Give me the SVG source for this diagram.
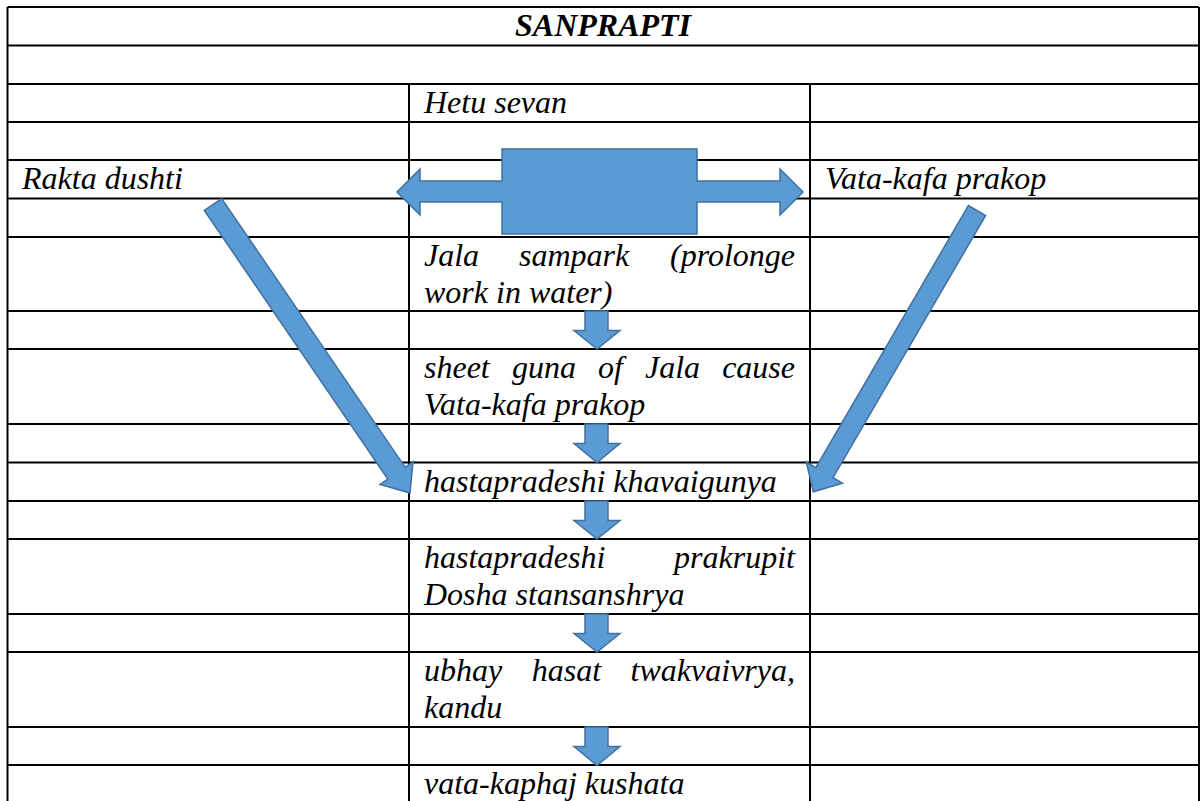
<svg xmlns="http://www.w3.org/2000/svg" width="1201" height="801" viewBox="0 0 1201 801">
<style>
.ln{stroke:#000;stroke-width:2;fill:none}
.t{font-family:"Liberation Serif","Times New Roman",serif;font-style:italic;font-size:32px;fill:#000}
.b{font-weight:bold}
.ar{fill:#5B9BD5;stroke:#41719C;stroke-width:1.5;stroke-linejoin:miter}
</style>
<rect width="1201" height="801" fill="#fff"/>
<g id="table" class="ln">
<path d="M7.5,7 V801 M1199,7 V801 M409,84 V801 M810,84 V801"/>
<path d="M7.5,7 H1199 M7.5,45.5 H1199 M7.5,84 H1199 M7.5,122 H1199 M7.5,160 H1199 M7.5,198.5 H1199 M7.5,237 H1199 M7.5,311 H1199 M7.5,349 H1199 M7.5,424 H1199 M7.5,462.5 H1199 M7.5,501 H1199 M7.5,539 H1199 M7.5,614 H1199 M7.5,652 H1199 M7.5,727 H1199 M7.5,765 H1199"/>
</g>
<g id="title"><text class="t b" x="603" y="36" text-anchor="middle">SANPRAPTI</text></g>
<g id="hetu"><text class="t" x="424" y="113">Hetu sevan</text></g>
<g id="rakta"><text class="t" x="22" y="189">Rakta dushti</text></g>
<g id="vatakafa"><text class="t" x="825" y="189">Vata-kafa prakop</text></g>
<g id="jala">
<text class="t" x="424" y="266">Jala</text>
<text class="t" x="519" y="266">sampark</text>
<text class="t" x="795" y="266" text-anchor="end">(prolonge</text>
<text class="t" x="424" y="303">work in water)</text>
</g>
<g id="sheet">
<text class="t" x="424" y="378">sheet</text>
<text class="t" x="512" y="378">guna</text>
<text class="t" x="598" y="378">of</text>
<text class="t" x="645" y="378">Jala</text>
<text class="t" x="795" y="378" text-anchor="end">cause</text>
<text class="t" x="424" y="415">Vata-kafa prakop</text>
</g>
<g id="khavaigunya"><text class="t" x="424" y="491.5">hastapradeshi khavaigunya</text></g>
<g id="prakrupit">
<text class="t" x="424" y="568">hastapradeshi</text>
<text class="t" x="795" y="568" text-anchor="end">prakrupit</text>
<text class="t" x="424" y="605">Dosha stansanshrya</text>
</g>
<g id="ubhay">
<text class="t" x="424" y="681">ubhay</text>
<text class="t" x="531.7" y="681">hasat</text>
<text class="t" x="795" y="681" text-anchor="end">twakvaivrya,</text>
<text class="t" x="424" y="718">kandu</text>
</g>
<g id="kushata"><text class="t" x="424" y="794">vata-kaphaj kushata</text></g>
<g id="connectors">
<path class="ar" d="M502,149 H697 V181 H780 V169 L803,192 L780,215 V202 H697 V234 H502 V202 H420 V215 L397,192 L420,169 V181 H502 Z"/>
<polygon class="ar" points="221.7,198.6 405.2,467.3 413,461.9 410,493 380,484.5 387.8,479.1 204.3,210.4"/>
<polygon class="ar" points="985.6,215.5 833,477.7 842.5,483.3 813.3,491.7 806.3,462.1 815.8,467.7 968.4,205.5"/>
<polygon class="ar" points="585,311 608,311 608,330.5 620,330.5 597,349 574,330.5 585,330.5"/>
<polygon class="ar" points="585,424 608,424 608,443.5 620,443.5 597,462.5 574,443.5 585,443.5"/>
<polygon class="ar" points="585,501 608,501 608,520.5 620,520.5 597,539 574,520.5 585,520.5"/>
<polygon class="ar" points="585,614 608,614 608,633.5 620,633.5 597,652 574,633.5 585,633.5"/>
<polygon class="ar" points="585,727 608,727 608,746.5 620,746.5 597,765.5 574,746.5 585,746.5"/>
</g>
</svg>
